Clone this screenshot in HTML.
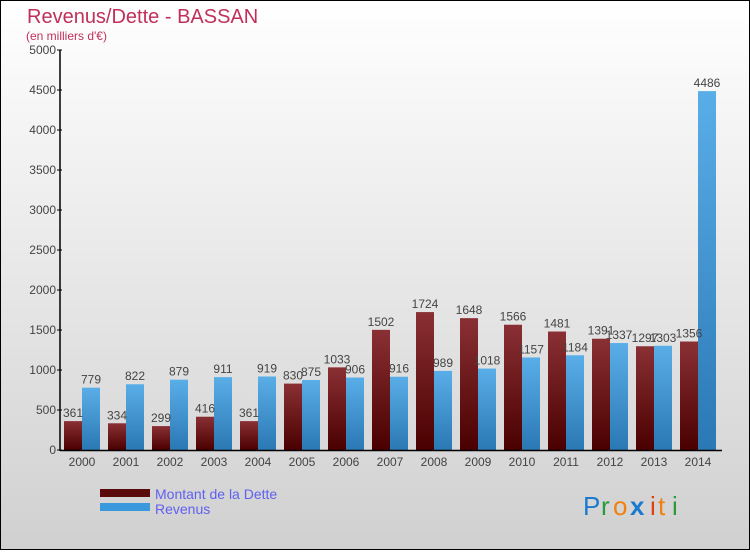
<!DOCTYPE html>
<html><head><meta charset="utf-8"><style>
html,body{margin:0;padding:0}
body{width:750px;height:550px;overflow:hidden;font-family:"Liberation Sans",sans-serif}
</style></head><body>
<svg width="750" height="550" xmlns="http://www.w3.org/2000/svg">
<defs>
<linearGradient id="bg" x1="0" y1="0" x2="0" y2="1"><stop offset="0" stop-color="#ffffff"/><stop offset="1" stop-color="#d0d0d0"/></linearGradient>
<linearGradient id="gd" x1="0" y1="0" x2="0" y2="1"><stop offset="0" stop-color="#8a3034"/><stop offset="1" stop-color="#4a0000"/></linearGradient>
<linearGradient id="gr" x1="0" y1="0" x2="0" y2="1"><stop offset="0" stop-color="#5aaee8"/><stop offset="1" stop-color="#2a78b4"/></linearGradient>
</defs>
<rect x="0.5" y="0.5" width="749" height="549" fill="url(#bg)" stroke="#000"/>
<text x="27" y="23" font-size="20" fill="#c0305a">Revenus/Dette - BASSAN</text>
<text x="26" y="40" font-size="12" fill="#c0305a">(en milliers d'€)</text>
<g id="yaxis"></g>
<g id="bars"></g>
<g id="xaxis"></g>
<rect x="100" y="489" width="50" height="8" fill="#5a0a0a"/>
<rect x="100" y="503" width="50" height="8" fill="#3a98dc"/>
<text x="155" y="499" font-size="14" fill="#6060f0">Montant de la Dette</text>
<text x="155" y="514" font-size="14" fill="#6060f0">Revenus</text>
<g font-size="26" font-family="Liberation Sans, sans-serif">
<text x="583" y="515" fill="#1a7ad0">P</text><text x="601" y="515" fill="#2a9a3a">r</text><text x="613" y="515" fill="#f08010">o</text><text x="630" y="515" fill="#1a7ad0" font-weight="bold">x</text><text x="650" y="515" fill="#e04010">i</text><text x="658" y="515" fill="#f08010">t</text><text x="672" y="515" fill="#2a9a3a">i</text>
</g>
</svg>
<script>
const years=["2000","2001","2002","2003","2004","2005","2006","2007","2008","2009","2010","2011","2012","2013","2014"];
const dette=[361,334,299,416,361,830,1033,1502,1724,1648,1566,1481,1391,1297,1356];
const revenus=[779,822,879,911,919,875,906,916,989,1018,1157,1184,1337,1303,4486];
const yTicks=[0,500,1000,1500,2000,2500,3000,3500,4000,4500,5000];
const NS="http://www.w3.org/2000/svg";
const y=v=>450-v*0.08;
const xc=i=>82+44*i;
function mk(t,a,p){const e=document.createElementNS(NS,t);for(const k in a)e.setAttribute(k,a[k]);p.appendChild(e);return e;}
const ya=document.getElementById('yaxis'),bars=document.getElementById('bars'),xa=document.getElementById('xaxis');
const al=mk('line',{x1:60,y1:50,x2:60,y2:451,stroke:'#000','stroke-width':1.5},ya);


yTicks.forEach(v=>{
 const l=mk('line',{x1:57,x2:62,y1:y(v),y2:y(v),stroke:'#000'},ya);
 
 
 const t=mk('text',{x:56,y:y(v)+4,'font-size':12,fill:'#444','text-anchor':'end'},ya);
 t.textContent=v;
 
 
});
const xl=mk('line',{x1:60,y1:450.5,x2:722,y2:450.5,stroke:'#000','stroke-width':1.5},xa);


years.forEach((yr,i)=>{
 const c=xc(i);
 const t=mk('text',{x:c,y:466,'font-size':12,fill:'#444','text-anchor':'middle'},xa);
 t.textContent=yr;
 
 
 const b1=mk('rect',{x:c-18,y:y(dette[i]),width:18,height:450-y(dette[i]),fill:'url(#gd)'},bars);
 
 
 const b2=mk('rect',{x:c,y:y(revenus[i]),width:18,height:450-y(revenus[i]),fill:'url(#gr)'},bars);
 
 
 const l1=mk('text',{x:c-9,y:y(dette[i])-4,'font-size':12,fill:'#444','text-anchor':'middle'},bars);
 l1.textContent=dette[i];
 
 
 const l2=mk('text',{x:c+9,y:y(revenus[i])-4,'font-size':12,fill:'#444','text-anchor':'middle'},bars);
 l2.textContent=revenus[i];
 
 
});
</script>
</body></html>
